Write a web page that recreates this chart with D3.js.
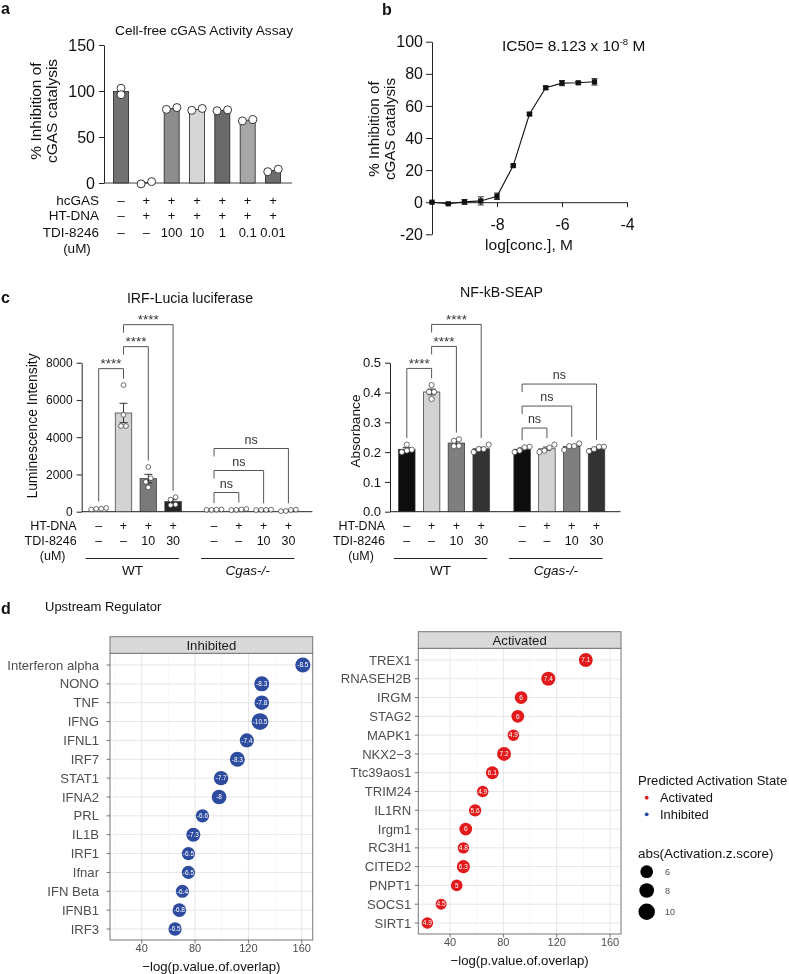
<!DOCTYPE html>
<html lang="en">
<head>
<meta charset="utf-8"/>
<title>TDI-8246 figure</title>
<style>
body { margin: 0; background: #fff; }
svg { will-change: transform; }
</style>
</head>
<body>
<svg width="789" height="974"></svg>
<script src="https://d3js.org/d3.v7.min.js"></script>
<script>

// ---------- data: panel a
var aHcgas  = ["\u2013", "+", "+", "+", "+", "+", "+"];
var aHtdna  = ["\u2013", "+", "+", "+", "+", "+", "+"];
var aTdi    = ["\u2013", "\u2013", "100", "10", "1", "0.1", "0.01"];
var aPoints = [[103, 96], [-1, 1.5], [80, 82], [79, 81], [78.5, 79.5], [67.5, 69], [12.3, 15]];
var aTicks  = [0, 50, 100, 150];

// ---------- data: panel b
var bLogConc = [-10, -9.5, -9, -8.5, -8, -7.5, -7, -6.5, -6, -5.5, -5];
var bInhib   = [0, -1, 0.2, 0.8, 3.7, 22.8, 54.9, 71.3, 74.2, 74.4, 75];
var bErr     = [0.3, 0.4, 1.5, 2.5, 2, 0.8, 0.8, 1, 1.6, 0.8, 2];
var bYTicks  = [-20, 0, 20, 40, 60, 80, 100];
var bXTicks  = [-8, -6, -4];

// ---------- data: panel c
var cHtdna = ["\u2013", "+", "+", "+", "\u2013", "+", "+", "+"];
var cTdi   = ["\u2013", "\u2013", "10", "30", "\u2013", "\u2013", "10", "30"];
var cGroups = ["WT", "Cgas-/-"];
var cIrfPoints = [[200, 160, 150, 120], [6800, 5200, 4600, 4600], [2400, 1800, 1600, 1300], [780, 650, 380, 350],
                  [120, 110, 100, 100], [150, 120, 100, 90], [110, 100, 100, 90], [110, 90, 40, 30]];
var cNfkbPoints = [[0.225, 0.208, 0.205, 0.2], [0.425, 0.402, 0.402, 0.378], [0.243, 0.238, 0.221, 0.22], [0.225, 0.21, 0.21, 0.2],
                   [0.218, 0.216, 0.205, 0.2], [0.225, 0.215, 0.205, 0.2], [0.229, 0.22, 0.22, 0.207], [0.218, 0.218, 0.21, 0.203]];
var cIrfTicks  = [0, 2000, 4000, 6000, 8000];
var cNfkbTicks = [0, 0.1, 0.2, 0.3, 0.4, 0.5];
var cSig = [[0, 1, "****"], [1, 2, "****"], [1, 3, "****"], [4, 5, "ns"], [4, 6, "ns"], [4, 7, "ns"]];

// ---------- data: panel d
var dInhNames = ["Interferon alpha", "NONO", "TNF", "IFNG", "IFNL1", "IRF7", "STAT1", "IFNA2", "PRL", "IL1B", "IRF1", "Ifnar", "IFN Beta", "IFNB1", "IRF3"];
var dInhLogP  = [160.8, 130, 130, 128.7, 118.8, 111.7, 99.5, 98, 85.5, 78.7, 75, 75, 70.5, 68.2, 65];
var dInhZ     = [-8.5, -8.3, -7.8, -10.5, -7.4, -8.3, -7.7, -8, -6.6, -7.3, -6.5, -6.5, -6.4, -6.8, -6.5];
var dActNames = ["TREX1", "RNASEH2B", "IRGM", "STAG2", "MAPK1", "NKX2\u22123", "Ttc39aos1", "TRIM24", "IL1RN", "Irgm1", "RC3H1", "CITED2", "PNPT1", "SOCS1", "SIRT1"];
var dActLogP  = [141.8, 113.7, 93.3, 90.8, 87.5, 80.5, 71.7, 64.5, 58.8, 51.8, 50, 50, 45, 33.3, 23];
var dActZ     = [7.1, 7.4, 6, 6, 4.9, 7.2, 6.1, 4.9, 5.6, 6, 4.8, 6.3, 5, 4.5, 4.9];
var dXTicks   = [40, 80, 120, 160];
var dSizeKeys = [6, 8, 10];

var FONT = '"Liberation Sans", Arial, Helvetica, sans-serif';
var svg = d3.select("svg").style("font-family", FONT);

function label(g, x, y, s, size, anchor, extra) {
  var t = g.append("text").attr("x", x).attr("y", y).attr("font-size", size)
    .attr("text-anchor", anchor || "start").attr("fill", "#111").text(s);
  if (extra) extra(t);
  return t;
}
function vlabel(g, x, y, s, size) {
  return g.append("text").attr("transform", "translate(" + x + "," + y + ") rotate(-90)")
    .attr("text-anchor", "middle").attr("dy", "0.35em").attr("font-size", size).attr("fill", "#111").text(s);
}
function styleAxis(sel, size) {
  sel.attr("font-family", FONT).attr("font-size", size).attr("color", "#222");
  sel.selectAll("text").attr("fill", "#111");
}
var plain = function(d) { return String(d); };

// put close points side by side, lower one on the left
function spread(vals, y, minGap, step) {
  var order = vals.map(function(v, i) { return i; }).sort(function(a, b) { return vals[a] - vals[b]; });
  var offs = vals.map(function() { return 0; });
  var clusters = [];
  order.forEach(function(i) {
    var last = clusters[clusters.length - 1];
    if (last && Math.abs(y(vals[last[last.length - 1]]) - y(vals[i])) < minGap) last.push(i);
    else clusters.push([i]);
  });
  clusters.forEach(function(c) {
    c.forEach(function(i, k) { offs[i] = (k - (c.length - 1) / 2) * step; });
  });
  return offs;
}

// ================= panel a
var ga = svg.append("g");
label(ga, 1, 14, "a", 16, "start", function(t) { t.attr("font-weight", "bold"); });
label(ga, 204, 35, "Cell-free cGAS Activity Assay", 13.7, "middle");

var aX = d3.scalePoint().domain(d3.range(aPoints.length)).range([121, 273]);
var aY = d3.scaleLinear().domain([0, 150]).range([183, 45]);
var aColors = ["#717171", "#9a9a9a", "#8d8d8d", "#d6d6d6", "#6a6a6a", "#a7a7a7", "#6e6e6e"];

ga.append("g").attr("transform", "translate(104,0)")
  .call(d3.axisLeft(aY).tickValues(aTicks).tickSize(5).tickSizeOuter(0).tickPadding(4))
  .call(styleAxis, 16);
ga.append("line").attr("x1", 104).attr("x2", aX(6) + 19).attr("y1", aY(0)).attr("y2", aY(0))
  .attr("stroke", "#444").attr("stroke-width", 1);

aPoints.forEach(function(p, i) {
  var m = d3.mean(p);
  ga.append("rect").attr("x", aX(i) - 7.5).attr("width", 15)
    .attr("y", aY(Math.max(m, 0))).attr("height", Math.abs(aY(m) - aY(0)))
    .attr("fill", aColors[i]).attr("stroke", "#222").attr("stroke-width", 0.8);
  var offs = spread(p, aY, 5, 10.5);
  p.forEach(function(v, k) {
    ga.append("circle").attr("cx", aX(i) + offs[k]).attr("cy", aY(v)).attr("r", 4)
      .attr("fill", "#fff").attr("stroke", "#222").attr("stroke-width", 0.9);
  });
});
vlabel(ga, 36, 111, "% Inhibition of", 15.5);
vlabel(ga, 52, 111, "cGAS catalysis", 15.5);

[["hcGAS", aHcgas, 205], ["HT-DNA", aHtdna, 220], ["TDI-8246", aTdi, 237]].forEach(function(r) {
  label(ga, 99, r[2], r[0], 13.5, "end");
  r[1].forEach(function(s, i) { label(ga, aX(i), r[2], s, 13, "middle"); });
});
label(ga, 77, 252.5, "(uM)", 13.5, "middle");

// ================= panel b
var gb = svg.append("g");
label(gb, 382, 15, "b", 16, "start", function(t) { t.attr("font-weight", "bold"); });
var bX = d3.scaleLinear().domain([-10, -4]).range([432, 627]);
var bY = d3.scaleLinear().domain([-20, 100]).range([234.3, 41.7]);

gb.append("g").attr("transform", "translate(432,0)")
  .call(d3.axisLeft(bY).tickValues(bYTicks).tickSize(6).tickSizeOuter(0).tickPadding(3).tickFormat(plain))
  .call(styleAxis, 16);
gb.append("g").attr("transform", "translate(0," + bY(0) + ")")
  .call(d3.axisBottom(bX).tickValues(bXTicks).tickSize(5).tickSizeOuter(0).tickPadding(11).tickFormat(plain))
  .call(styleAxis, 16);

var bData = bLogConc.map(function(c, i) { return {x: c, y: bInhib[i], e: bErr[i]}; });
gb.append("path").datum(bData)
  .attr("d", d3.line().x(function(d) { return bX(d.x); }).y(function(d) { return bY(d.y); }))
  .attr("fill", "none").attr("stroke", "#111").attr("stroke-width", 1.1);
bData.forEach(function(d) {
  var cx = bX(d.x);
  gb.append("path")
    .attr("d", "M" + cx + "," + bY(d.y - d.e) + "V" + bY(d.y + d.e) +
               "M" + (cx - 3) + "," + bY(d.y - d.e) + "H" + (cx + 3) +
               "M" + (cx - 3) + "," + bY(d.y + d.e) + "H" + (cx + 3))
    .attr("stroke", "#111").attr("stroke-width", 0.9).attr("fill", "none");
  gb.append("rect").attr("x", cx - 2.6).attr("y", bY(d.y) - 2.6).attr("width", 5.2).attr("height", 5.2).attr("fill", "#111");
});
vlabel(gb, 374, 129, "% Inhibition of", 15.2);
vlabel(gb, 390, 129, "cGAS catalysis", 15.2);
label(gb, 529, 250, "log[conc.], M", 15.5, "middle");
label(gb, 502, 50.5, "", 15.4, "start", function(t) {
  t.append("tspan").text("IC50= 8.123 x 10");
  t.append("tspan").attr("font-size", 9.5).attr("dy", -6).text("-8");
  t.append("tspan").attr("dy", 6).text(" M");
});

// ================= panel c
var gc = svg.append("g");
label(gc, 1, 303, "c", 16, "start", function(t) { t.attr("font-weight", "bold"); });

function drawBarPanel(o) {
  var g = gc.append("g");
  var y = d3.scaleLinear().domain([0, o.ticks[o.ticks.length - 1]]).range([511.7, 362.7]);
  var xPos = function(i) { return o.first + (i + (i >= 4 ? 0.65 : 0)) * 24.8; };
  var bw = 16.5;

  g.append("g").attr("transform", "translate(" + o.axisX + ",0)")
    .call(d3.axisLeft(y).tickValues(o.ticks).tickSize(5).tickSizeOuter(0).tickPadding(4).tickFormat(o.fmt))
    .call(styleAxis, o.tickSize);
  g.append("line").attr("x1", o.axisX).attr("x2", xPos(7) + 24).attr("y1", y(0)).attr("y2", y(0))
    .attr("stroke", "#222").attr("stroke-width", 1);

  var tops = [];
  o.points.forEach(function(p, i) {
    var m = d3.mean(p), sem = d3.deviation(p) / Math.sqrt(p.length);
    var cx = xPos(i);
    g.append("rect").attr("x", cx - bw / 2).attr("width", bw).attr("y", y(m)).attr("height", y(0) - y(m))
      .attr("fill", o.colors[i % 4]).attr("stroke", "#333").attr("stroke-width", 0.7);
    g.append("path")
      .attr("d", "M" + cx + "," + y(m - sem) + "V" + y(m + sem) +
                 "M" + (cx - 4) + "," + y(m + sem) + "H" + (cx + 4) +
                 "M" + (cx - 4) + "," + y(m - sem) + "H" + (cx + 4))
      .attr("stroke", "#222").attr("stroke-width", 0.9).attr("fill", "none");
    var offs = spread(p, y, 4.5, 5);
    p.forEach(function(v, k) {
      g.append("circle").attr("cx", cx + offs[k]).attr("cy", y(v)).attr("r", o.r)
        .attr("fill", "#fff").attr("stroke", "#333").attr("stroke-width", 0.7);
    });
    tops.push(Math.min(y(d3.max(p)) - o.r, y(m + sem)));
  });

  // significance brackets, stacked over whatever is below them
  var occ = tops.map(function(t) { return {y: t, br: false}; });
  cSig.forEach(function(s) {
    var a = s[0], b = s[1], top = Infinity;
    for (var k = a; k <= b; k++) top = Math.min(top, occ[k].br ? occ[k].y - 22 : occ[k].y - 14);
    var leg = function(k) { return occ[k].br ? top + 8 : occ[k].y - 4; };
    g.append("path").attr("d", "M" + xPos(a) + "," + leg(a) + "V" + top + "H" + xPos(b) + "V" + leg(b))
      .attr("fill", "none").attr("stroke", "#444").attr("stroke-width", 0.9);
    var ns = s[2] === "ns";
    label(g, (xPos(a) + xPos(b)) / 2, top - (ns ? 5 : 0.5), s[2], ns ? 12.5 : 13.5, "middle",
          function(t) { t.attr("fill", "#333"); });
    for (k = a; k <= b; k++) occ[k] = {y: top, br: true};
  });

  label(g, o.titleX, o.titleY, o.title, 14.2, "middle");
  vlabel(g, o.ylabX, o.ylabY, o.ylab, o.ylabSize);

  [["HT-DNA", cHtdna, 529.5], ["TDI-8246", cTdi, 545]].forEach(function(r) {
    label(g, o.axisX - 5, r[2], r[0], 12.5, "end");
    r[1].forEach(function(s, i) { label(g, xPos(i), r[2], s, 12.5, "middle"); });
  });
  label(g, o.axisX - 29, 560, "(uM)", 12.5, "middle");

  cGroups.forEach(function(name, gi) {
    var x1 = xPos(gi * 4) - 13, x2 = xPos(gi * 4 + 3) + 6;
    g.append("line").attr("x1", x1).attr("x2", x2).attr("y1", 558.5).attr("y2", 558.5)
      .attr("stroke", "#222").attr("stroke-width", 1);
    label(g, (x1 + x2) / 2, 575, name, 13.5, "middle", function(t) { if (gi === 1) t.attr("font-style", "italic"); });
  });
}

drawBarPanel({
  points: cIrfPoints, ticks: cIrfTicks, fmt: d3.format("d"), axisX: 81.7, first: 98.7, r: 2.4, tickSize: 12,
  colors: ["#ffffff", "#d3d3d3", "#7a7a7a", "#262626"],
  title: "IRF-Lucia luciferase", titleX: 190, titleY: 303,
  ylab: "Luminescence Intensity", ylabX: 32, ylabY: 426, ylabSize: 13.9
});
drawBarPanel({
  points: cNfkbPoints, ticks: cNfkbTicks, fmt: d3.format(".1f"), axisX: 390, first: 406.8, r: 2.6, tickSize: 13,
  colors: ["#0d0d0d", "#d3d3d3", "#7f7f7f", "#333333"],
  title: "NF-kB-SEAP", titleX: 501.5, titleY: 297,
  ylab: "Absorbance", ylabX: 355, ylabY: 431, ylabSize: 13.7
});

// ================= panel d
var gd = svg.append("g");
label(gd, 1, 614, "d", 16, "start", function(t) { t.attr("font-weight", "bold"); });
label(gd, 45, 610.5, "Upstream Regulator", 13, "start");

var dXDomain = [16.2, 168.2];
var dColor = {Activated: "#e31a1c", Inhibited: "#2e4c9f"};
var dSize = function(z) { return 2.6 * Math.sqrt(Math.abs(z)); };

function drawDots(o) {
  var g = gd.append("g");
  var x = d3.scaleLinear().domain(dXDomain).range([o.left, o.right]);
  var y = d3.scalePoint().domain(o.names).range([o.panelTop + 11.7, o.panelBottom - 11]);
  var minor = dXTicks.map(function(t) { return t - 20; });

  g.selectAll(".minor").data(minor).enter().append("line")
    .attr("x1", x).attr("x2", x).attr("y1", o.panelTop).attr("y2", o.panelBottom)
    .attr("stroke", "#f2f2f2").attr("stroke-width", 0.6);
  g.selectAll(".major").data(dXTicks).enter().append("line")
    .attr("x1", x).attr("x2", x).attr("y1", o.panelTop).attr("y2", o.panelBottom)
    .attr("stroke", "#e6e6e6").attr("stroke-width", 1);
  g.selectAll(".hgrid").data(o.names).enter().append("line")
    .attr("x1", o.left).attr("x2", o.right).attr("y1", y).attr("y2", y)
    .attr("stroke", "#e6e6e6").attr("stroke-width", 1);
  g.append("rect").attr("x", o.left).attr("y", o.panelTop).attr("width", o.right - o.left)
    .attr("height", o.panelBottom - o.panelTop).attr("fill", "none").attr("stroke", "#777").attr("stroke-width", 1);

  // strip
  g.append("rect").attr("x", o.left).attr("y", o.panelTop - 16.6).attr("width", o.right - o.left).attr("height", 16.6)
    .attr("fill", "#d9d9d9").attr("stroke", "#777").attr("stroke-width", 1);
  label(g, (o.left + o.right) / 2, o.panelTop - 3.8, o.state, 13.2, "middle", function(t) { t.attr("fill", "#1a1a1a"); });

  // category axis
  o.names.forEach(function(n) {
    g.append("line").attr("x1", o.left - 3.5).attr("x2", o.left).attr("y1", y(n)).attr("y2", y(n))
      .attr("stroke", "#555").attr("stroke-width", 0.8);
    label(g, o.left - o.labGap, y(n), n, 13.1, "end", function(t) { t.attr("dy", "0.35em").attr("fill", "#4d4d4d"); });
  });
  // value axis
  dXTicks.forEach(function(v) {
    g.append("line").attr("x1", x(v)).attr("x2", x(v)).attr("y1", o.panelBottom).attr("y2", o.panelBottom + 3.5)
      .attr("stroke", "#555").attr("stroke-width", 0.8);
    label(g, x(v), o.panelBottom + 12.3, String(v), 11, "middle", function(t) { t.attr("fill", "#4d4d4d"); });
  });
  label(g, (o.left + o.right) / 2, o.panelBottom + 31, "\u2212log(p.value.of.overlap)", 13.2, "middle");

  o.names.forEach(function(n, i) {
    g.append("circle").attr("cx", x(o.logp[i])).attr("cy", y(n)).attr("r", dSize(o.z[i]))
      .attr("fill", dColor[o.state]);
    label(g, x(o.logp[i]), y(n), String(o.z[i]), 6.5, "middle", function(t) { t.attr("dy", "0.35em").attr("fill", "#fff"); });
  });
}

drawDots({state: "Inhibited", names: dInhNames, logp: dInhLogP, z: dInhZ,
          left: 110, right: 312.7, panelTop: 653.3, panelBottom: 940, labGap: 11});
drawDots({state: "Activated", names: dActNames, logp: dActLogP, z: dActZ,
          left: 418.3, right: 621, panelTop: 648.3, panelBottom: 934, labGap: 7});

// legend
var gl = gd.append("g");
label(gl, 638, 784.7, "Predicted Activation State", 13.1, "start");
["Activated", "Inhibited"].forEach(function(s, i) {
  var cy = 797.7 + i * 16.6;
  gl.append("circle").attr("cx", 646.7).attr("cy", cy).attr("r", 1.9).attr("fill", dColor[s]);
  label(gl, 660, cy, s, 12.9, "start", function(t) { t.attr("dy", "0.35em"); });
});
label(gl, 638, 858, "abs(Activation.z.score)", 13.4, "start");
var keyY = [871.7, 890.5, 911.7];
dSizeKeys.forEach(function(v, i) {
  gl.append("circle").attr("cx", 646.7).attr("cy", keyY[i]).attr("r", dSize(v)).attr("fill", "#000");
  label(gl, 665, keyY[i], String(v), 9, "start", function(t) { t.attr("dy", "0.35em").attr("fill", "#4d4d4d"); });
});

</script>
</body>
</html>
